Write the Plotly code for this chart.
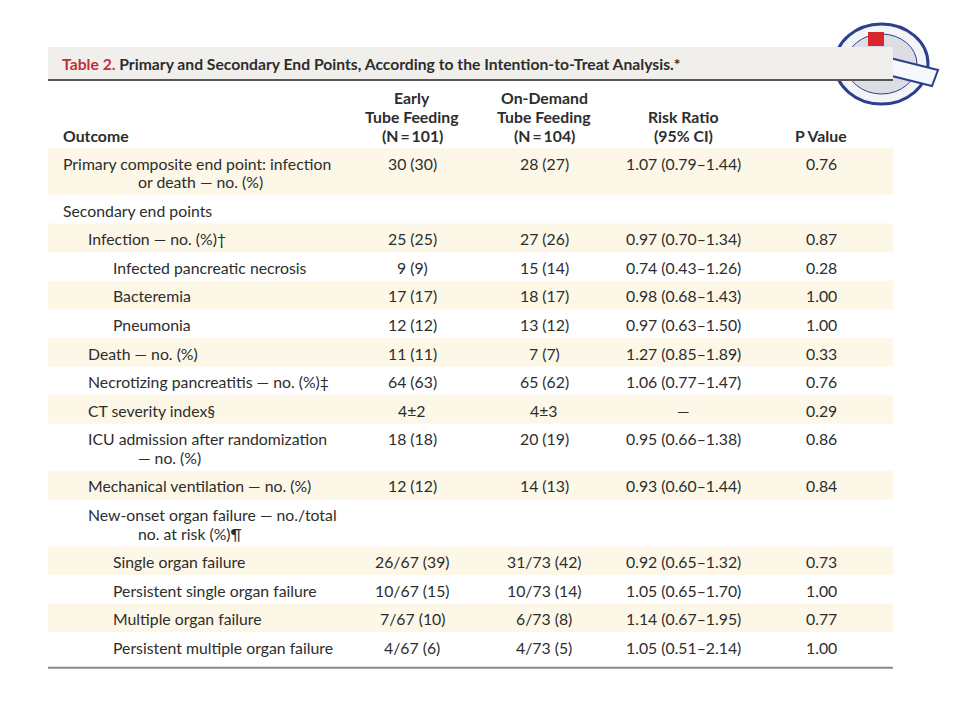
import plotly.graph_objects as go

# Datos de la tabla ------------------------------
titulo_num = "Table 2."
titulo = "Primary and Secondary End Points, According to the Intention-to-Treat Analysis.*"

encabezados = [
    ["Outcome"],
    ["Early", "Tube Feeding", "(N\u2009=\u2009101)"],
    ["On-Demand", "Tube Feeding", "(N\u2009=\u2009104)"],
    ["Risk Ratio", "(95% CI)"],
    ["P Value"],
]

etiquetas = [
    ["Primary composite end point: infection", "or death \u2014 no. (%)"],
    ["Secondary end points"],
    ["Infection \u2014 no. (%)\u2020"],
    ["Infected pancreatic necrosis"],
    ["Bacteremia"],
    ["Pneumonia"],
    ["Death \u2014 no. (%)"],
    ["Necrotizing pancreatitis \u2014 no. (%)\u2021"],
    ["CT severity index\u00a7"],
    ["ICU admission after randomization", "\u2014 no. (%)"],
    ["Mechanical ventilation \u2014 no. (%)"],
    ["New-onset organ failure \u2014 no./total", "no. at risk (%)\u00b6"],
    ["Single organ failure"],
    ["Persistent single organ failure"],
    ["Multiple organ failure"],
    ["Persistent multiple organ failure"],
]
nivel = [0, 0, 1, 2, 2, 2, 1, 1, 1, 1, 1, 1, 2, 2, 2, 2]

temprana = ["30 (30)", "", "25 (25)", "9 (9)", "17 (17)", "12 (12)", "11 (11)", "64 (63)",
            "4\u00b12", "18 (18)", "12 (12)", "", "26/67 (39)", "10/67 (15)", "7/67 (10)", "4/67 (6)"]
demanda = ["28 (27)", "", "27 (26)", "15 (14)", "18 (17)", "13 (12)", "7 (7)", "65 (62)",
           "4\u00b13", "20 (19)", "14 (13)", "", "31/73 (42)", "10/73 (14)", "6/73 (8)", "4/73 (5)"]
riesgo = ["1.07 (0.79\u20131.44)", "", "0.97 (0.70\u20131.34)", "0.74 (0.43\u20131.26)",
          "0.98 (0.68\u20131.43)", "0.97 (0.63\u20131.50)", "1.27 (0.85\u20131.89)",
          "1.06 (0.77\u20131.47)", "\u2014", "0.95 (0.66\u20131.38)", "0.93 (0.60\u20131.44)", "",
          "0.92 (0.65\u20131.32)", "1.05 (0.65\u20131.70)", "1.14 (0.67\u20131.95)", "1.05 (0.51\u20132.14)"]
valor_p = ["0.76", "", "0.87", "0.28", "1.00", "1.00", "0.33", "0.76",
           "0.29", "0.86", "0.84", "", "0.73", "1.00", "0.77", "1.00"]

# Estilo / geometria ------------------------------
FUENTE = "Lato"
TXT = "#2d2d2d"
CREMA = "#fcf7e7"
GRIS = "#f1efec"
ROJO = "#c0303a"

x_izq, x_der = 48, 893
x_nivel = [62, 87, 112]
x_cont = 137
x_cols = [412, 544, 683, 821]
y_tabla = 148
alto_fila = 28.6
alto_extra = 18.4
salto = 18.7     # separacion entre lineas de una misma celda
tam = 15.8

fig = go.Figure()
fig.add_trace(go.Scatter(x=[8, 968], y=[8, 728], mode="markers",
                         marker=dict(opacity=0), hoverinfo="skip", showlegend=False))

formas = []
notas = []

# Logo (aproximado)
formas.append(dict(type="circle", x0=835, x1=928, y0=24, y1=104, line=dict(color="#2c3f8f", width=3),
                   fillcolor="#f3f4f8", layer="below"))
formas.append(dict(type="circle", x0=846, x1=917, y0=34, y1=94, line=dict(color="#2c3f8f", width=1),
                   fillcolor="#dcdee4", layer="below"))
formas.append(dict(type="path", path="M 882 56 L 938 70 L 932 86 L 876 72 Z",
                   line=dict(color="#2c3f8f", width=2), fillcolor="#f7f8fc", layer="below"))
formas.append(dict(type="rect", x0=868, x1=884, y0=32, y1=46, line=dict(width=0),
                   fillcolor="#d8262e", layer="below"))

# Banda del titulo
formas.append(dict(type="rect", x0=x_izq, x1=x_der, y0=47, y1=80, line=dict(width=0),
                   fillcolor=GRIS, layer="below"))
formas.append(dict(type="line", x0=x_izq, x1=x_der, y0=80, y1=80, line=dict(color="#555555", width=2)))
notas.append(dict(x=61, y=63.5, xanchor="left", yanchor="middle",
                  text="<span style='color:%s'>%s</span> %s" % (ROJO, titulo_num, titulo),
                  font=dict(family=FUENTE, size=15.7, color=TXT, weight="bold")))

# Encabezados
y_ult = 135
for j, lineas in enumerate(encabezados):
    n = len(lineas)
    for k, t in enumerate(lineas):
        yy = y_ult - (n - 1 - k) * salto
        if j == 0:
            notas.append(dict(x=x_nivel[0], y=yy, xanchor="left", yanchor="middle", text=t,
                              font=dict(family=FUENTE, size=tam, color=TXT, weight="bold")))
        else:
            notas.append(dict(x=x_cols[j - 1], y=yy, xanchor="center", yanchor="middle", text=t,
                              font=dict(family=FUENTE, size=tam, color=TXT, weight="bold")))

# Filas
y0 = y_tabla
for i, lineas in enumerate(etiquetas):
    h = alto_fila + alto_extra * (len(lineas) - 1)
    if i % 2 == 0:
        formas.append(dict(type="rect", x0=x_izq, x1=x_der, y0=y0, y1=y0 + h, line=dict(width=0),
                           fillcolor=CREMA, layer="below"))
    yc = y0 + 15
    notas.append(dict(x=x_nivel[nivel[i]], y=yc, xanchor="left", yanchor="middle", text=lineas[0],
                      font=dict(family=FUENTE, size=tam, color=TXT)))
    for k, t in enumerate(lineas[1:]):
        notas.append(dict(x=x_cont, y=yc + salto * (k + 1), xanchor="left", yanchor="middle",
                          text=t, font=dict(family=FUENTE, size=tam, color=TXT)))
    for c, col in enumerate([temprana, demanda, riesgo, valor_p]):
        if col[i]:
            notas.append(dict(x=x_cols[c], y=yc, xanchor="center", yanchor="middle", text=col[i],
                              font=dict(family=FUENTE, size=tam, color=TXT)))
    y0 += h

formas.append(dict(type="line", x0=x_izq, x1=x_der, y0=y0 + 7, y1=y0 + 7, line=dict(color="#8a8a8a", width=2)))

for n in notas:
    n.update(xref="x", yref="y", showarrow=False, borderpad=0)

# la pagina agrega 8 px de margen, se compensa con el rango
fig.update_layout(
    width=960, height=720,
    margin=dict(l=0, r=0, t=0, b=0),
    paper_bgcolor="white", plot_bgcolor="white",
    xaxis=dict(range=[8, 968], visible=False, fixedrange=True),
    yaxis=dict(range=[728, 8], visible=False, fixedrange=True),
    shapes=formas, annotations=notas,
    showlegend=False,
)

fig.write_html("out.html")
